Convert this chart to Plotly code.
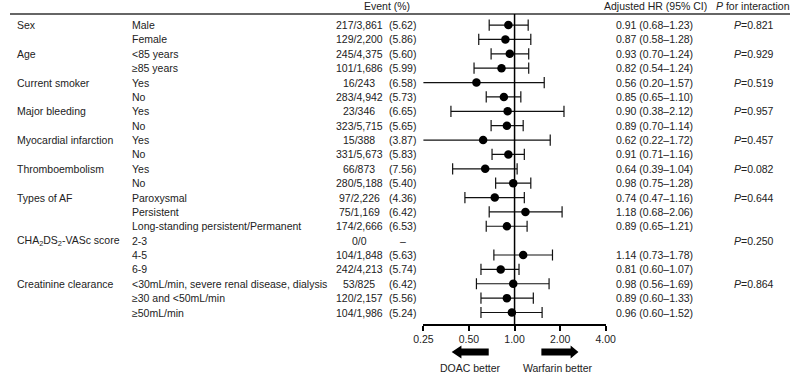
import plotly.graph_objects as go
import math

groups = ["Sex", "", "Age", "", "Current smoker", "", "Major bleeding", "",
          "Myocardial infarction", "", "Thromboembolism", "", "Types of AF", "", "",
          "CHA<sub>2</sub>DS<sub>2</sub>-VASc score", "", "", "Creatinine clearance", "", ""]
subgroups = ["Male", "Female", "<85 years", "≥85 years", "Yes", "No", "Yes", "No", "Yes", "No",
             "Yes", "No", "Paroxysmal", "Persistent", "Long-standing persistent/Permanent",
             "2-3", "4-5", "6-9", "<30mL/min, severe renal disease, dialysis",
             "≥30 and <50mL/min", "≥50mL/min"]
events = ["217/3,861", "129/2,200", "245/4,375", "101/1,686", "16/243", "283/4,942", "23/346",
          "323/5,715", "15/388", "331/5,673", "66/873", "280/5,188", "97/2,226", "75/1,169",
          "174/2,666", "0/0", "104/1,848", "242/4,213", "53/825", "120/2,157", "104/1,986"]
pct = ["(5.62)", "(5.86)", "(5.60)", "(5.99)", "(6.58)", "(5.73)", "(6.65)", "(5.65)", "(3.87)",
       "(5.83)", "(7.56)", "(5.40)", "(4.36)", "(6.42)", "(6.53)", "–", "(5.63)", "(5.74)",
       "(6.42)", "(5.56)", "(5.24)"]
hr = [0.91, 0.87, 0.93, 0.82, 0.56, 0.85, 0.90, 0.89, 0.62, 0.91, 0.64, 0.98, 0.74, 1.18, 0.89,
      None, 1.14, 0.81, 0.98, 0.89, 0.96]
lo = [0.68, 0.58, 0.70, 0.54, 0.20, 0.65, 0.38, 0.70, 0.22, 0.71, 0.39, 0.75, 0.47, 0.68, 0.65,
      None, 0.73, 0.60, 0.56, 0.60, 0.60]
hi = [1.23, 1.28, 1.24, 1.24, 1.57, 1.10, 2.12, 1.14, 1.72, 1.16, 1.04, 1.28, 1.16, 2.06, 1.21,
      None, 1.78, 1.07, 1.69, 1.33, 1.52]
p_int = ["0.821", "", "0.929", "", "0.519", "", "0.957", "", "0.457", "", "0.082", "", "0.644",
         "", "", "0.250", "", "", "0.864", "", ""]
tick_vals = [0.25, 0.5, 1.0, 2.0, 4.0]
tick_text = ["0.25", "0.50", "1.00", "2.00", "4.00"]

W, H = 800, 375
MT, MB = 14, 51
PH = H - MT - MB
FONT = "Liberation Sans, Arial, sans-serif"
FS = 10.5
TC = "#222222"


def px(x):
    return x / W


def py(y):
    return (H - MB - y) / PH


rows = list(range(len(subgroups)))
fig = go.Figure()

# CI lines
lx, ly = [], []
cx, cy = [], []
for i in rows:
    if hr[i] is None:
        continue
    lx += [lo[i], hi[i], None]
    ly += [i, i, None]
    cx += [lo[i], hi[i]]
    cy += [i, i]
fig.add_trace(go.Scatter(x=lx, y=ly, mode="lines", line=dict(color="#111111", width=1.2),
                         hoverinfo="skip", showlegend=False))
fig.add_trace(go.Scatter(x=cx, y=cy, mode="markers", cliponaxis=True,
                         marker=dict(symbol="line-ns", size=8,
                                     line=dict(color="#111111", width=1.2)),
                         hoverinfo="skip", showlegend=False))
fig.add_trace(go.Scatter(x=[h for h in hr if h is not None],
                         y=[i for i in rows if hr[i] is not None],
                         mode="markers", marker=dict(color="black", size=8.5, symbol="circle"),
                         showlegend=False))

ann = []


def txt(x, y, s, xanchor="left", yref="y", size=FS):
    ann.append(dict(x=x, y=y, xref="paper", yref=yref, text=s, showarrow=False,
                    xanchor=xanchor, yanchor="middle", font=dict(family=FONT, size=size, color=TC)))


for i in rows:
    if groups[i]:
        txt(px(5), i, groups[i])
    txt(px(123), i, subgroups[i])
    txt(px(358), i, events[i], "center")
    txt(px(403), i, pct[i], "center")
    if hr[i] is not None:
        txt(px(619), i, f"{hr[i]:.2f} ({lo[i]:.2f}–{hi[i]:.2f})")
    if p_int[i]:
        txt(px(740), i, "<i>P</i>=" + p_int[i])

# headers
txt(px(387), py(6), "Event (%)", "center", "paper")
txt(px(607), py(6), "Adjusted HR (95% CI)", "left", "paper")
txt(px(722), py(6), "<i>P</i> for interaction", "left", "paper")
# direction labels
txt(px(472), py(368), "DOAC better", "center", "paper")
txt(px(562), py(368), "Warfarin better", "center", "paper")

shapes = [
    dict(type="line", xref="paper", yref="paper", x0=0, x1=1, y0=1, y1=1,
         line=dict(color="#333333", width=1.5)),
    dict(type="line", xref="x", yref="paper", x0=1, x1=1, y0=0, y1=1,
         line=dict(color="black", width=1.5)),
]


def arrow(tail, base, tip, yc):
    bh, hh = 3.5, 6.5
    pts = [(tail, yc - bh), (base, yc - bh), (base, yc - hh), (tip, yc),
           (base, yc + hh), (base, yc + bh), (tail, yc + bh)]
    path = "M " + " L ".join(f"{px(a):.5f},{py(b):.5f}" for a, b in pts) + " Z"
    return dict(type="path", xref="paper", yref="paper", path=path,
                fillcolor="black", line=dict(width=0))


shapes.append(arrow(491, 463, 453, 352))
shapes.append(arrow(545, 575, 583, 352))

fig.update_layout(
    width=W, height=H,
    margin=dict(l=0, r=0, t=MT, b=MB),
    paper_bgcolor="white", plot_bgcolor="white",
    annotations=ann, shapes=shapes,
    xaxis=dict(type="log", domain=[px(424), px(611)],
               range=[math.log10(0.25), math.log10(4)],
               tickvals=tick_vals, ticktext=tick_text,
               showline=True, linecolor="black", linewidth=1.5,
               ticks="outside", ticklen=5, tickwidth=1.5, tickcolor="black",
               showgrid=False, zeroline=False,
               tickfont=dict(family=FONT, size=FS, color=TC)),
    yaxis=dict(range=[20.8, -0.77], showticklabels=False, showgrid=False,
               zeroline=False, showline=False, fixedrange=True),
    font=dict(family=FONT, size=FS, color=TC),
)

fig.write_html("out.html", config={"displayModeBar": False},
               post_script="document.body.style.margin='0';document.body.style.overflow='hidden';")
